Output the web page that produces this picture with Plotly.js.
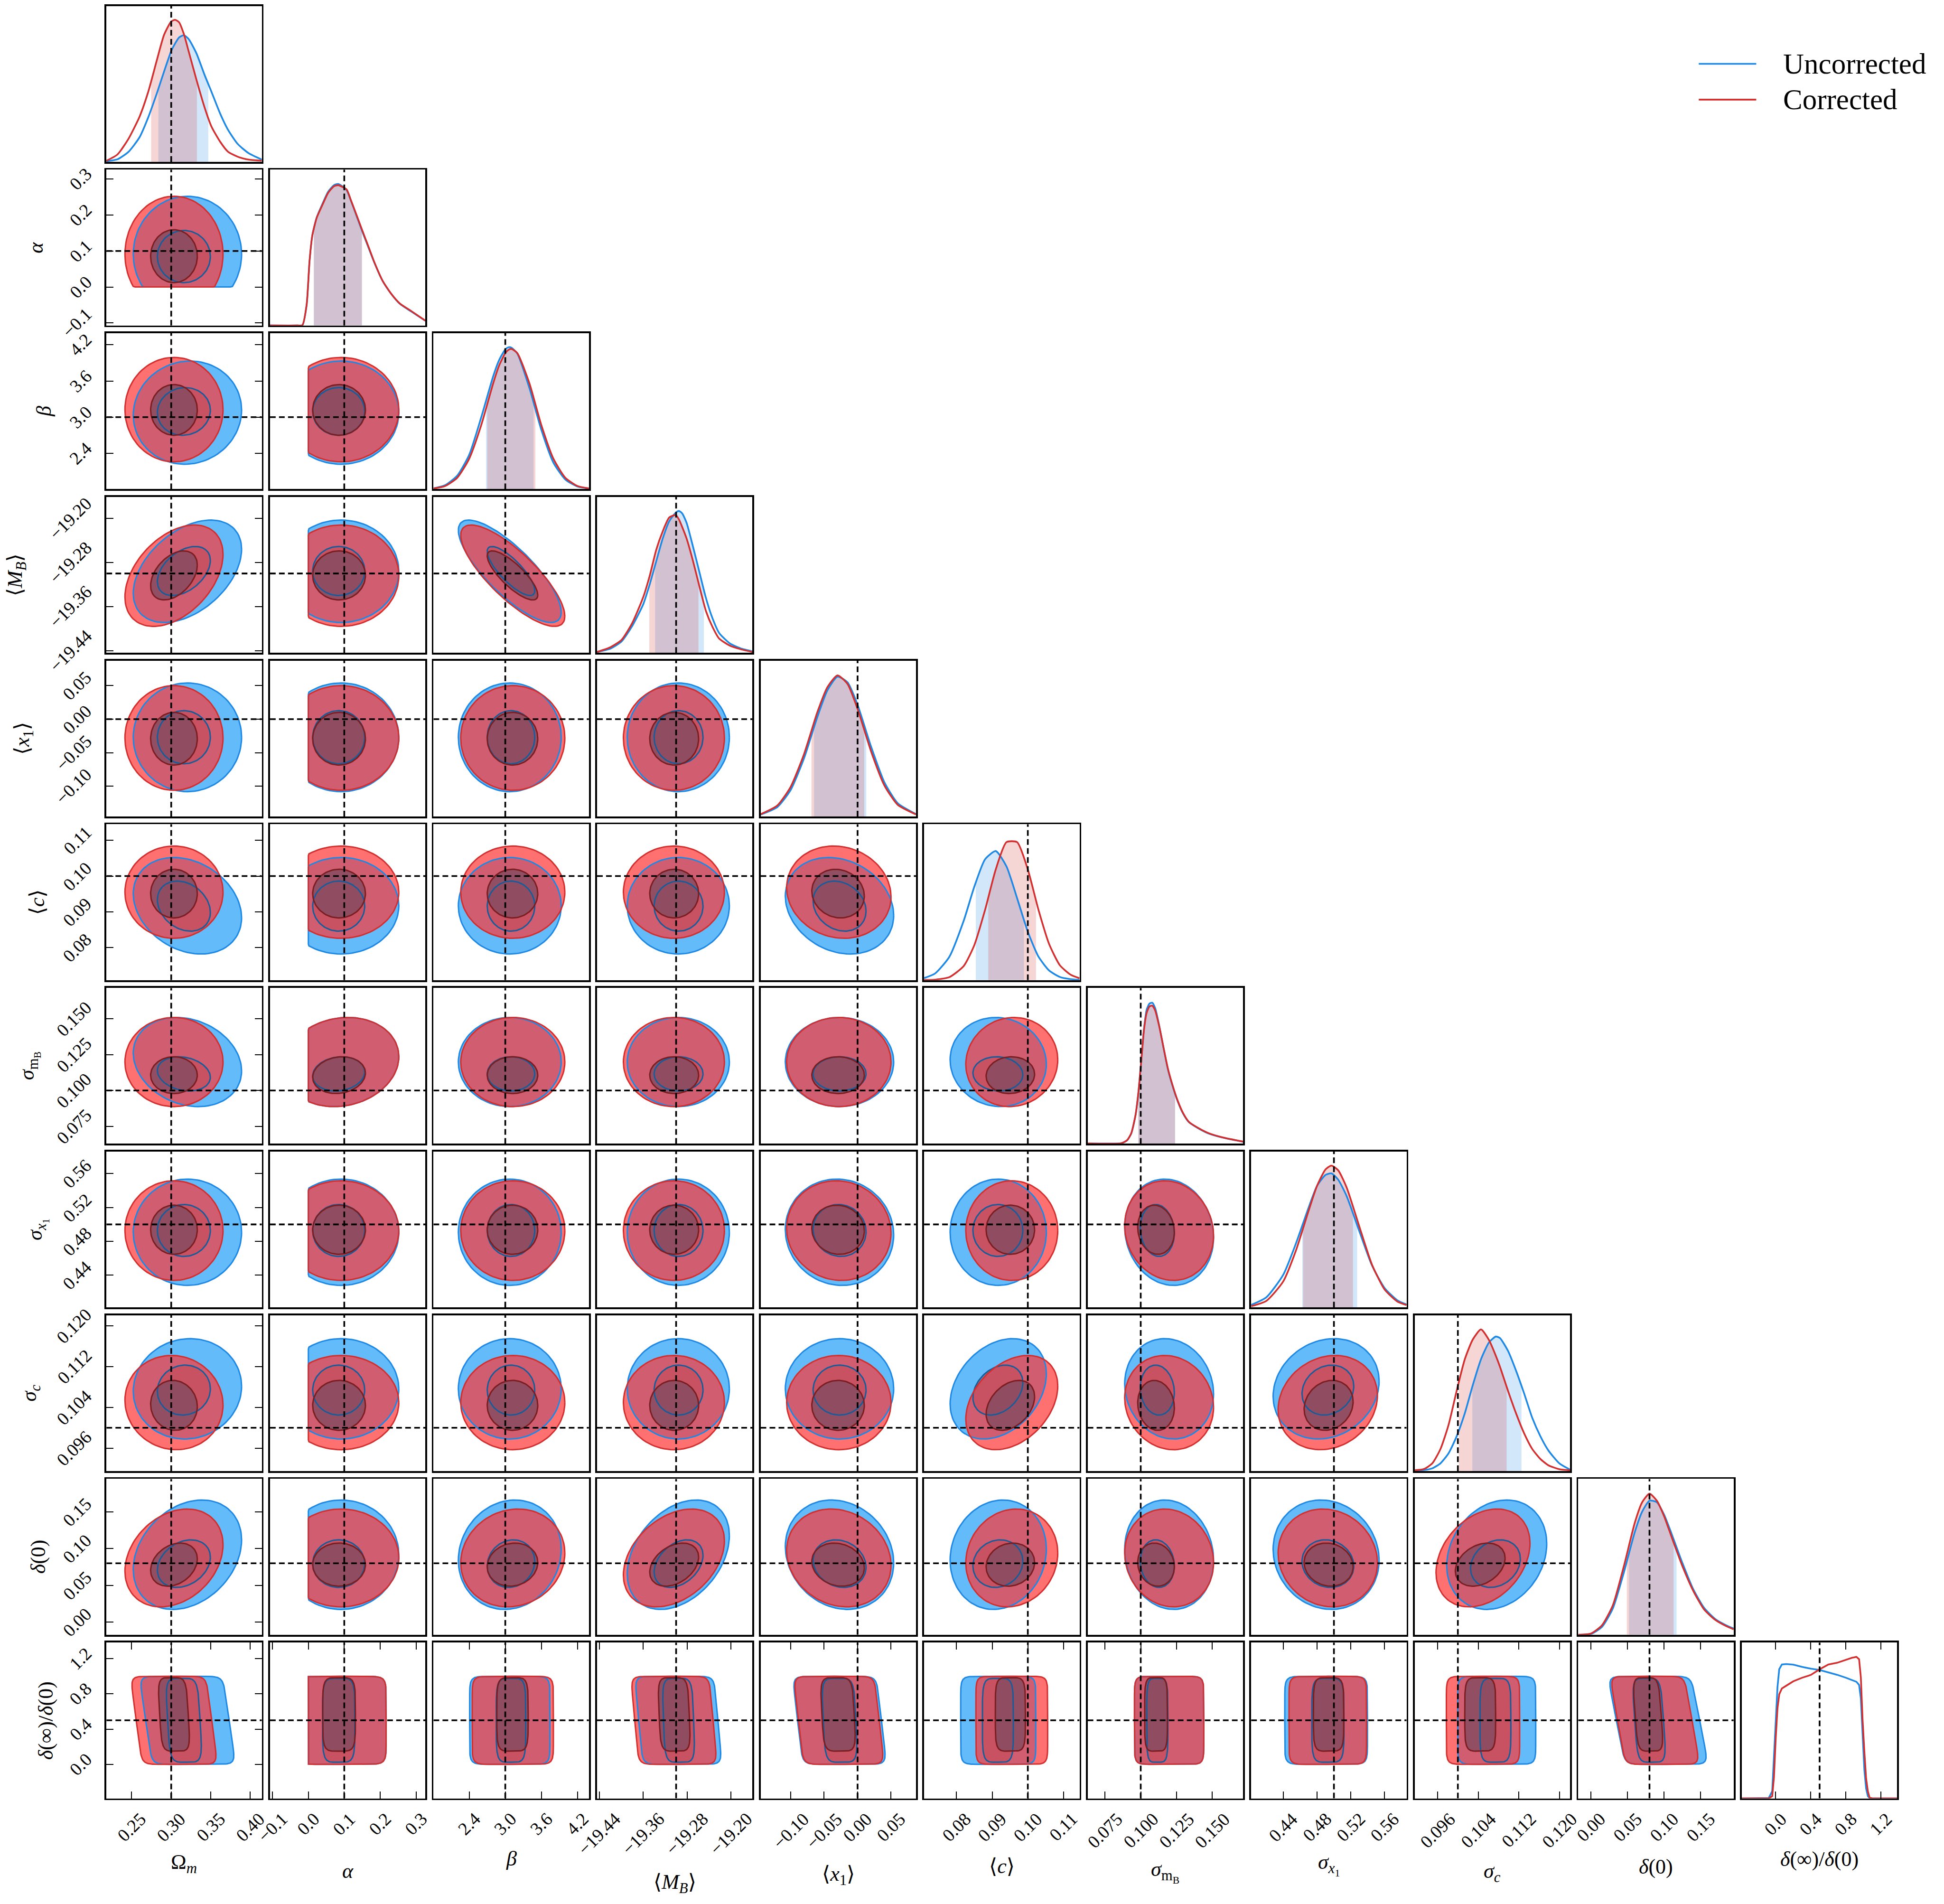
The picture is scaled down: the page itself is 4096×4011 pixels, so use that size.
<!DOCTYPE html>
<html>
<head>
<meta charset="utf-8">
<script src="https://cdn.plot.ly/plotly-3.0.1.min.js"></script>
<style>
html,body{margin:0;padding:0;background:#ffffff;}
#chart{width:4096px;height:4011px;}
</style>
</head>
<body>
<div id="chart"></div>
<script>
// ================= DATA =================
const seriesNames = ["Uncorrected", "Corrected"];
const paramLabels = [
  "Ω<sub><i>m</i></sub>", "<i>α</i>", "<i>β</i>", "⟨<i>M</i><sub><i>B</i></sub>⟩",
  "⟨<i>x</i><sub>1</sub>⟩", "⟨<i>c</i>⟩", "<i>σ</i><sub>m<sub>B</sub></sub>",
  "<i>σ</i><sub><i>x</i><sub>1</sub></sub>", "<i>σ</i><sub><i>c</i></sub>", "<i>δ</i>(0)",
  "<i>δ</i>(∞)/<i>δ</i>(0)"
];
const truthValues = [0.30, 0.10, 3.0, -19.30, 0.00, 0.10, 0.10, 0.50, 0.10, 0.08, 0.50];
const axisRanges = [
  [0.2181, 0.4146], [-0.107, 0.326], [1.807, 4.39], [-19.444, -19.161],
  [-0.145, 0.0873], [0.0709, 0.1145], [0.0629, 0.1715], [0.402, 0.586],
  [0.0915, 0.1221], [-0.0174, 0.195], [-0.387, 1.384]
];
const tickValues = [
  [0.25, 0.30, 0.35, 0.40], [-0.1, 0.0, 0.1, 0.2, 0.3], [2.4, 3.0, 3.6, 4.2],
  [-19.44, -19.36, -19.28, -19.20], [-0.10, -0.05, 0.00, 0.05], [0.08, 0.09, 0.10, 0.11],
  [0.075, 0.100, 0.125, 0.150], [0.44, 0.48, 0.52, 0.56], [0.096, 0.104, 0.112, 0.120],
  [0.00, 0.05, 0.10, 0.15], [0.0, 0.4, 0.8, 1.2]
];
const tickLabels = [
  ["0.25", "0.30", "0.35", "0.40"], ["−0.1", "0.0", "0.1", "0.2", "0.3"], ["2.4", "3.0", "3.6", "4.2"],
  ["−19.44", "−19.36", "−19.28", "−19.20"], ["−0.10", "−0.05", "0.00", "0.05"], ["0.08", "0.09", "0.10", "0.11"],
  ["0.075", "0.100", "0.125", "0.150"], ["0.44", "0.48", "0.52", "0.56"], ["0.096", "0.104", "0.112", "0.120"],
  ["0.00", "0.05", "0.10", "0.15"], ["0.0", "0.4", "0.8", "1.2"]
];

// 1-D marginal densities (relative height in the panel)
const gridOmegaM = [0.218,0.232,0.246,0.260,0.271,0.282,0.291,0.300,0.305,0.310,0.316,0.322,0.332,0.342,0.351,0.362,0.372,0.384,0.398,0.4146];
const densOmegaMU = [0.004,0.016,0.064,0.158,0.286,0.442,0.580,0.711,0.760,0.798,0.812,0.788,0.695,0.560,0.448,0.308,0.204,0.115,0.055,0.014];
const densOmegaMC = [0.007,0.047,0.148,0.290,0.450,0.655,0.815,0.900,0.911,0.895,0.820,0.710,0.525,0.352,0.225,0.128,0.064,0.033,0.014,0.007];

const gridAlpha = [-0.107,-0.03,-0.0167,-0.0048,0.0032,0.0112,0.0232,0.0392,0.0551,0.0711,0.083,0.095,0.1069,0.1188,0.1348,0.1507,0.1667,0.1826,0.2065,0.2305,0.2544,0.2863,0.326];
const densAlphaU = [0,0,0.002,0.130,0.410,0.580,0.693,0.780,0.858,0.900,0.908,0.892,0.868,0.800,0.700,0.600,0.505,0.410,0.288,0.204,0.140,0.090,0.030];
const densAlphaC = [0,0,0.002,0.135,0.413,0.580,0.691,0.774,0.851,0.893,0.900,0.889,0.872,0.802,0.705,0.607,0.510,0.413,0.288,0.204,0.142,0.093,0.031];

const gridBeta = [1.807,2.0,2.2,2.4,2.6,2.8,2.9,3.0,3.05,3.1,3.2,3.4,3.6,3.8,4.0,4.2,4.39];
const densBetaU = [0.005,0.025,0.086,0.220,0.460,0.725,0.830,0.896,0.910,0.908,0.870,0.650,0.380,0.170,0.061,0.017,0.004];
const densBetaC = [0.004,0.020,0.072,0.195,0.410,0.680,0.795,0.873,0.893,0.900,0.873,0.680,0.410,0.195,0.072,0.020,0.005];

const gridMB = [-19.444,-19.419,-19.3993,-19.3796,-19.3598,-19.348,-19.3362,-19.3243,-19.3125,-19.3007,-19.2948,-19.2889,-19.281,-19.2691,-19.2573,-19.2455,-19.2336,-19.2218,-19.2021,-19.1824,-19.161];
const densMBU = [0.005,0.028,0.073,0.174,0.312,0.440,0.587,0.734,0.844,0.899,0.910,0.894,0.835,0.679,0.514,0.349,0.220,0.128,0.060,0.028,0.009];
const densMBC = [0.005,0.037,0.083,0.193,0.358,0.495,0.661,0.780,0.868,0.884,0.855,0.807,0.734,0.587,0.422,0.266,0.165,0.092,0.046,0.023,0.005];

const gridX1 = [-0.145,-0.12,-0.10,-0.08,-0.06,-0.045,-0.03,-0.015,0.0,0.02,0.04,0.06,0.0873];
const densX1U = [0.012,0.060,0.170,0.374,0.640,0.810,0.897,0.860,0.716,0.450,0.220,0.085,0.015];
const densX1C = [0.014,0.070,0.190,0.400,0.670,0.830,0.905,0.850,0.690,0.420,0.200,0.075,0.013];

const gridC = [0.0709,0.074,0.078,0.082,0.085,0.088,0.091,0.094,0.097,0.100,0.103,0.106,0.109,0.112,0.1145];
const densCU = [0.013,0.043,0.150,0.380,0.600,0.775,0.828,0.730,0.525,0.310,0.150,0.061,0.020,0.006,0.002];
const densCC = [0.001,0.003,0.019,0.090,0.225,0.450,0.710,0.885,0.885,0.710,0.450,0.230,0.095,0.035,0.012];

const gridSigmaMB = [0.0630,0.0866,0.0905,0.0934,0.0964,0.0983,0.1003,0.1023,0.1042,0.1062,0.1081,0.1101,0.1130,0.1160,0.1189,0.1219,0.1258,0.1297,0.1336,0.1395,0.1474,0.1571,0.1715];
const densSigmaMBU = [0.002,0.004,0.022,0.066,0.184,0.322,0.525,0.740,0.862,0.900,0.905,0.870,0.755,0.612,0.482,0.382,0.273,0.192,0.139,0.103,0.066,0.040,0.013];
const densSigmaMBC = [0.002,0.004,0.023,0.068,0.186,0.323,0.523,0.732,0.841,0.882,0.886,0.855,0.750,0.614,0.486,0.386,0.277,0.195,0.141,0.105,0.068,0.041,0.014];

const gridSigmaX1 = [0.402,0.42,0.44,0.455,0.47,0.48,0.49,0.497,0.505,0.515,0.53,0.545,0.56,0.575,0.586];
const densSigmaX1U = [0.016,0.065,0.210,0.410,0.640,0.780,0.850,0.860,0.820,0.715,0.490,0.270,0.124,0.046,0.019];
const densSigmaX1C = [0.008,0.042,0.167,0.365,0.620,0.780,0.885,0.910,0.880,0.770,0.520,0.275,0.115,0.038,0.015];

const gridSigmaC = [0.0915,0.09338,0.09498,0.09658,0.09817,0.09977,0.10136,0.10295,0.10455,0.10614,0.10747,0.10827,0.10986,0.11146,0.11305,0.11464,0.11624,0.11783,0.11996,0.1221];
const densSigmaCU = [0.005,0.007,0.018,0.050,0.114,0.224,0.370,0.553,0.717,0.826,0.863,0.854,0.772,0.644,0.498,0.342,0.224,0.132,0.050,0.009];
const densSigmaCC = [0.005,0.014,0.050,0.142,0.297,0.516,0.717,0.845,0.909,0.840,0.740,0.671,0.516,0.370,0.242,0.142,0.078,0.037,0.012,0.005];

const gridDelta0 = [-0.0174,0.0,0.015,0.03,0.045,0.06,0.07,0.08,0.09,0.10,0.11,0.125,0.14,0.155,0.17,0.185,0.195];
const densDelta0U = [0,0.005,0.050,0.170,0.400,0.660,0.790,0.860,0.850,0.770,0.650,0.460,0.290,0.170,0.100,0.060,0.040];
const densDelta0C = [0,0.008,0.060,0.190,0.440,0.720,0.850,0.905,0.860,0.760,0.630,0.440,0.280,0.160,0.095,0.055,0.035];

const gridDeltaRatio = [-0.387,-0.08,-0.04,-0.02,0.0,0.02,0.04,0.07,0.12,0.2,0.3,0.4,0.5,0.6,0.7,0.8,0.87,0.92,0.95,0.97,0.99,1.01,1.03,1.05,1.07,1.1,1.384];
const densDeltaRatioU = [0,0.002,0.046,0.275,0.476,0.714,0.829,0.859,0.862,0.858,0.844,0.832,0.824,0.808,0.793,0.774,0.760,0.748,0.728,0.641,0.412,0.183,0.064,0.014,0.002,0,0];
const densDeltaRatioC = [0,0,0.014,0.137,0.385,0.577,0.668,0.705,0.723,0.751,0.774,0.792,0.828,0.859,0.870,0.888,0.902,0.908,0.893,0.778,0.504,0.302,0.128,0.046,0.005,0,0];

// 68% shaded intervals on the diagonal (null = not shaded)
const band68U = [[0.2838,0.3469],[0.0152,0.1492],[2.68,3.47],[-19.3382,-19.2494],[-0.065,0.013],[0.0854,0.0989],[0.0983,0.1240],[0.4625,0.5275],[0.10285,0.11252],[0.052,0.117],null];
const band68C = [[0.2746,0.3325],[0.0152,0.1492],[2.70,3.50],[-19.3488,-19.2593],[-0.069,0.010],[0.0889,0.1023],[0.0983,0.1240],[0.4635,0.5225],[0.10019,0.1096],[0.049,0.113],null];

// 2-D contour extents [low, high] of each parameter (outer = 95%, inner = 68%)
const outer95U = [[0.252,0.389],[-0.07,0.252],[2.22,3.93],[-19.389,-19.203],[-0.108,0.054],[0.0782,0.1052],[0.0888,0.1509],[0.428,0.5535],[0.0978,0.1175],[0.0171,0.1662],[0.0,1.0]];
const inner68U = [[0.2825,0.3495],[0.012,0.157],[2.70,3.49],[-19.340,-19.251],[-0.0665,0.0127],[0.0846,0.0986],[0.0997,0.1235],[0.4622,0.5235],[0.1025,0.1123],[0.0471,0.1119],[0.024,0.977]];
const outer95C = [[0.2415,0.3655],[-0.07,0.252],[2.26,3.99],[-19.396,-19.212],[-0.106,0.050],[0.0826,0.1084],[0.0888,0.1509],[0.4339,0.5515],[0.0957,0.1142],[0.0206,0.1539],[0.0,1.0]];
const inner68C = [[0.274,0.333],[0.012,0.159],[2.70,3.54],[-19.348,-19.259],[-0.0684,0.0101],[0.0883,0.1019],[0.0979,0.1235],[0.4647,0.5227],[0.0995,0.1093],[0.0488,0.1075],[0.15,0.985]];

// correlation of each pair (row parameter vs column parameter)
const corrU = [
  [],
  [0],
  [0.05, 0],
  [0.43, 0, -0.80],
  [0, 0, 0, 0],
  [-0.25, 0, 0, 0, -0.2],
  [-0.2, 0.12, 0, 0, 0, -0.05],
  [0, 0, 0, 0, -0.05, 0, -0.1],
  [0.05, 0, 0, 0, 0, 0.3, -0.1, 0.15],
  [0.27, 0, 0.1, 0.35, -0.15, 0.1, -0.1, -0.1, 0.2],
  [-0.15, 0, 0, -0.1, -0.12, 0, 0, 0, 0, -0.2]
];
const corrC = [
  [],
  [0],
  [0, 0],
  [0.42, 0, -0.80],
  [0, 0, 0, 0],
  [0, 0, 0, 0, -0.1],
  [0, 0.12, 0, 0, 0, 0.05],
  [0, 0, 0, 0, -0.05, 0, -0.1],
  [-0.05, 0, 0, 0, 0, 0.35, -0.1, 0.15],
  [0.27, 0, 0.1, 0.35, -0.15, 0.1, -0.1, -0.1, 0.3],
  [-0.15, 0, 0, -0.1, -0.12, 0, 0, 0, 0, -0.2]
];
const priorLower = [null, 0.0, null, null, null, null, null, null, null, null, null];

const margGrid = [gridOmegaM, gridAlpha, gridBeta, gridMB, gridX1, gridC, gridSigmaMB, gridSigmaX1, gridSigmaC, gridDelta0, gridDeltaRatio];
const margU = [densOmegaMU, densAlphaU, densBetaU, densMBU, densX1U, densCU, densSigmaMBU, densSigmaX1U, densSigmaCU, densDelta0U, densDeltaRatioU];
const margC = [densOmegaMC, densAlphaC, densBetaC, densMBC, densX1C, densCC, densSigmaMBC, densSigmaX1C, densSigmaCC, densDelta0C, densDeltaRatioC];

// ================= LAYOUT / STYLE =================
const NP = paramLabels.length;
const BOXP = 10;                 // flat-prior parameter: box-like contours
const REF_W = 4566, REF_H = 4471;
const colL = j => 250 + 384.1 * j, PW = 365;
const rowT = i => 14 + 384.3 * i, PH = 366;
const fx = v => v / REF_W, fy = v => 1 - v / REF_H;
const xTitleY = [4376, 4393, 4365, 4422, 4404, 4382, 4395, 4378, 4397, 4383, 4366];
const yTitleX = [null, 84, 103, 38, 55, 88, 69, 88, 72, 90, 107];
const FONT = "'Liberation Serif', 'DejaVu Serif', serif";
const COL = {
  blue: '#1E88E5', red: '#D32F2F',
  blueOuterFill: 'rgba(34,158,248,0.7)', blueInnerFill: 'rgba(60,134,179,0.7)',
  redOuterFill: 'rgba(255,53,53,0.7)', redInnerFill: 'rgba(120,74,95,0.7)',
  blueOuterLine: '#1E88E5', blueInnerLine: '#1A5C99',
  redOuterLine: '#D32F2F', redInnerLine: '#7B1E22',
  blueBand: 'rgba(30,136,229,0.2)', redBand: 'rgba(211,47,47,0.2)'
};
const DASH = { color: '#000', width: 3.6, dash: '12px,7px' };

function interp(g, d, x) {
  for (let k = 0; k < g.length - 1; k++) {
    if (x >= g[k] && x <= g[k + 1]) { const t = (x - g[k]) / (g[k + 1] - g[k]); return d[k] + t * (d[k + 1] - d[k]); }
  }
  return 0;
}
function clampP(p, v) { return (priorLower[p] !== null && v < priorLower[p]) ? priorLower[p] : v; }

function contour(i, j, ext, rho, outer) {
  const box = (i === BOXP);
  const n = box ? (outer ? 10 : 5) : 2;
  const wf = box ? (outer ? 0.78 : 0.62) : 1;
  const cx = (ext[j][0] + ext[j][1]) / 2, ax = (ext[j][1] - ext[j][0]) / 2 * wf;
  const cy = (ext[i][0] + ext[i][1]) / 2, ay = (ext[i][1] - ext[i][0]) / 2;
  const s = Math.sqrt(1 - rho * rho);
  const xs = [], ys = [];
  const N = 96;
  for (let k = 0; k <= N; k++) {
    const t = 2 * Math.PI * k / N, c = Math.cos(t), sn = Math.sin(t);
    const u = Math.sign(c) * Math.pow(Math.abs(c), 2 / n), v = Math.sign(sn) * Math.pow(Math.abs(sn), 2 / n);
    let x, y;
    if (box) { x = cx + ax * (rho * v + s * u); y = cy + ay * v; }
    else { x = cx + ax * u; y = cy + ay * (rho * u + s * v); }
    xs.push(clampP(j, x)); ys.push(clampP(i, y));
  }
  return { x: xs, y: ys };
}

const traces = [];
const layout = {
  width: 4096, height: 4011, margin: { l: 0, r: 0, t: 0, b: 0 },
  showlegend: false, paper_bgcolor: '#ffffff', plot_bgcolor: '#ffffff',
  annotations: [], shapes: [], font: { family: FONT, color: '#000' }
};
const idx = {};
let n = 0;
for (let i = 0; i < NP; i++) {
  for (let j = 0; j <= i; j++) {
    n++; idx[i + ',' + j] = n;
    const sfx = n === 1 ? '' : String(n);
    const bottom = (i === NP - 1), left = (j === 0 && i > 0);
    const common = { showgrid: false, zeroline: false, showline: true, mirror: 'ticks', linecolor: '#000', linewidth: 3.8,
      ticklen: 15, tickwidth: 2, tickcolor: '#000', showticklabels: false, fixedrange: true };
    layout['xaxis' + sfx] = Object.assign({}, common, {
      domain: [fx(colL(j)), fx(colL(j) + PW)], range: axisRanges[j], anchor: 'y' + sfx,
      ticks: bottom ? 'inside' : '', tickmode: 'array', tickvals: tickValues[j]
    });
    layout['yaxis' + sfx] = Object.assign({}, common, {
      domain: [fy(rowT(i) + PH), fy(rowT(i))], range: (i === j) ? [0, 1] : axisRanges[i], anchor: 'x' + sfx,
      ticks: left ? 'inside' : '', tickmode: 'array', tickvals: tickValues[i]
    });
    const xa = 'x' + sfx, ya = 'y' + sfx;
    if (i === j) {
      const g = margGrid[i];
      const bands = [[band68U[i], margU[i], COL.blueBand], [band68C[i], margC[i], COL.redBand]];
      bands.forEach(([b, d, colr]) => {
        if (!b) return;
        const bx = [b[0]], by = [interp(g, d, b[0])];
        for (let k = 0; k < g.length; k++) if (g[k] > b[0] && g[k] < b[1]) { bx.push(g[k]); by.push(d[k]); }
        bx.push(b[1]); by.push(interp(g, d, b[1]));
        traces.push({ type: 'scatter', mode: 'lines', x: bx, y: by, fill: 'tozeroy', fillcolor: colr,
          line: { width: 0, shape: i === BOXP ? 'linear' : 'spline', smoothing: 0.6 }, xaxis: xa, yaxis: ya, hoverinfo: 'skip' });
      });
      [[margU[i], COL.blue], [margC[i], COL.red]].forEach(([d, colr]) => {
        traces.push({ type: 'scatter', mode: 'lines', x: g, y: d,
          line: { color: colr, width: 3.6, shape: i === BOXP ? 'linear' : 'spline', smoothing: 0.6 },
          xaxis: xa, yaxis: ya, hoverinfo: 'skip' });
      });
      traces.push({ type: 'scatter', mode: 'lines', x: [truthValues[i], truthValues[i]], y: [0, 1],
        line: DASH, xaxis: xa, yaxis: ya, hoverinfo: 'skip' });
    } else {
      const parts = [
        [outer95U, corrU[i][j], true, COL.blueOuterFill, COL.blueOuterLine],
        [inner68U, corrU[i][j], false, COL.blueInnerFill, COL.blueInnerLine],
        [outer95C, corrC[i][j], true, COL.redOuterFill, COL.redOuterLine],
        [inner68C, corrC[i][j], false, COL.redInnerFill, COL.redInnerLine]
      ];
      const shapesXY = parts.map(p => contour(i, j, p[0], p[1], p[2]));
      parts.forEach((p, k) => {
        traces.push({ type: 'scatter', mode: 'lines', x: shapesXY[k].x, y: shapesXY[k].y, fill: 'toself',
          fillcolor: p[3], line: { width: 0 }, xaxis: xa, yaxis: ya, hoverinfo: 'skip' });
      });
      parts.forEach((p, k) => {
        traces.push({ type: 'scatter', mode: 'lines', x: shapesXY[k].x, y: shapesXY[k].y,
          line: { color: p[4], width: 3 }, xaxis: xa, yaxis: ya, hoverinfo: 'skip' });
      });
      traces.push({ type: 'scatter', mode: 'lines',
        x: [truthValues[j], truthValues[j], null, axisRanges[j][0], axisRanges[j][1]],
        y: [axisRanges[i][0], axisRanges[i][1], null, truthValues[i], truthValues[i]],
        connectgaps: false, line: DASH, xaxis: xa, yaxis: ya, hoverinfo: 'skip' });
    }
  }
}

// tick labels and axis titles
const tickFont = { family: FONT, size: 38, color: '#000' };
const titleFont = { family: FONT, size: 44, color: '#000' };
for (let j = 0; j < NP; j++) {
  const nn = idx[(NP - 1) + ',' + j];
  const xr = 'x' + (nn === 1 ? '' : nn);
  tickValues[j].forEach((v, k) => {
    layout.annotations.push({ xref: xr, yref: 'paper', x: v, y: fy(4246), xanchor: 'center', yanchor: 'top',
      text: tickLabels[j][k], textangle: -45, showarrow: false, font: tickFont, borderpad: 0 });
  });
  layout.annotations.push({ xref: 'paper', yref: 'paper', x: fx(colL(j) + PW / 2), y: fy(xTitleY[j]),
    xanchor: 'center', yanchor: 'middle', text: paramLabels[j], showarrow: false, font: titleFont });
}
for (let i = 1; i < NP; i++) {
  const nn = idx[i + ',0'];
  const yr = 'y' + (nn === 1 ? '' : nn);
  tickValues[i].forEach((v, k) => {
    layout.annotations.push({ xref: 'paper', yref: yr, x: fx(226), y: v, xanchor: 'right', yanchor: 'middle',
      text: tickLabels[i][k], textangle: -45, showarrow: false, font: tickFont, borderpad: 0 });
  });
  layout.annotations.push({ xref: 'paper', yref: 'paper', x: fx(yTitleX[i]), y: fy(rowT(i) + PH / 2),
    xanchor: 'center', yanchor: 'middle', text: paramLabels[i], textangle: -90, showarrow: false, font: titleFont });
}

// legend
[[COL.blue, 150], [COL.red, 234]].forEach(([colr, yy], k) => {
  layout.shapes.push({ type: 'line', xref: 'paper', yref: 'paper', x0: fx(3990), x1: fx(4125), y0: fy(yy), y1: fy(yy),
    line: { color: colr, width: 3.6 } });
  layout.annotations.push({ xref: 'paper', yref: 'paper', x: fx(4186), y: fy(yy), xanchor: 'left', yanchor: 'middle',
    text: seriesNames[k], showarrow: false, font: { family: FONT, size: 61, color: '#000' } });
});

Plotly.newPlot('chart', traces, layout, { staticPlot: true, responsive: false });
</script>
</body>
</html>
